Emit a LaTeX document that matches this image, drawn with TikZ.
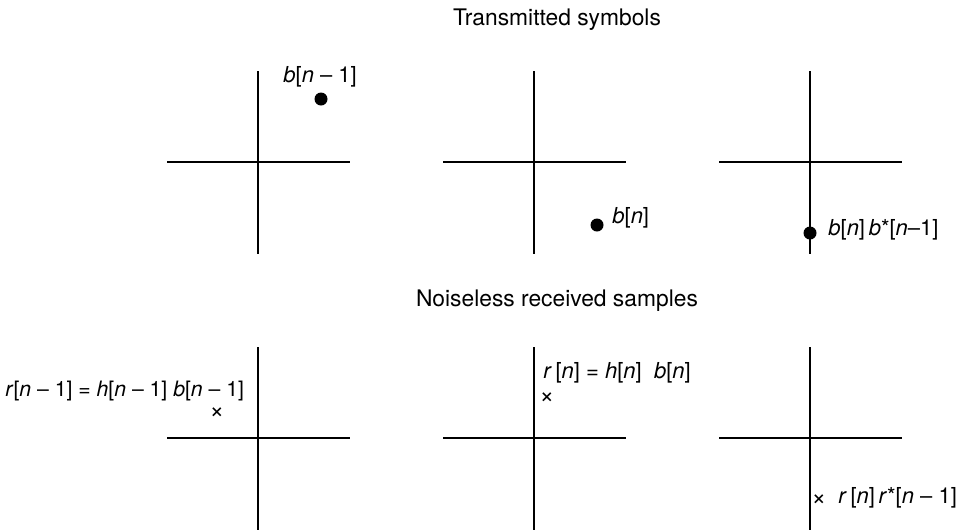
\documentclass[tikz,border=0pt]{standalone}
\usepackage{fontspec}
\setmainfont{TeX Gyre Heros}

\begin{document}
\begin{tikzpicture}[x = 0.5pt, y = -0.5pt]
    \useasboundingbox (0, 0) rectangle (959, 531);

    \tikzstyle{axis} = [line width = 0.75pt]
    \tikzstyle{symb} = [circle, fill = black, inner sep = 0pt, minimum size = 6.5pt]
    \tikzstyle{samp} = [inner sep = 0pt, font = \fontsize{12.5}{13}\selectfont]
    \tikzstyle{lbl} = [inner sep = 0pt, font = \fontsize{11}{12}\selectfont]
    \tikzstyle{ttl} = [inner sep = 0pt, font = \fontsize{11.4}{13}\selectfont]

    % axes of the six planes
    \foreach \cx/\cy/\nm in {258/162/ta, 534/162/tb, 810/162/tc,
                             258/438/ra, 534/438/rb, 810/438/rc} {
        \coordinate (\nm) at (\cx, \cy);
        \draw[axis] (\cx - 91, \cy) -- (\cx + 92, \cy);
        \draw[axis] (\cx, \cy - 91) -- (\cx, \cy + 92);
    }

    \node[ttl] (top) at (557, 20) {Transmitted symbols};
    \node[ttl] (bot) at (557, 301) {Noiseless received samples};

    % transmitted
    \node[symb] (b1) at (321, 99) {};
    \node[lbl, anchor = west] (b1l) at (283, 77) {\textit{b}[\textit{n} – 1]};

    \node[symb] (b0) at (597, 225) {};
    \node[lbl, anchor = west] (b0l) at (612, 218) {\textit{b}[\textit{n}]};

    \node[symb] (bb) at (810, 233) {};
    \node[lbl, anchor = west] (bbl) at (828, 230) {\textit{b}[\textit{n}]\,\textit{b}*[\textit{n}–1]};

    % received
    \node[samp] (r1) at (217, 413) {×};
    \node[lbl, anchor = west, font = \fontsize{10.6}{12}\selectfont] (r1l) at (5, 391)
        {\textit{r}[\textit{n} – 1] = \textit{h}[\textit{n} – 1]\ \textit{b}[\textit{n} – 1]};

    \node[samp] (r0) at (547, 398) {×};
    \node[lbl, anchor = west] (r0l) at (543, 373)
        {\textit{r}\,[\textit{n}] = \textit{h}[\textit{n}]\ \ \textit{b}[\textit{n}]};

    \node[samp] (rr) at (819, 500) {×};
    \node[lbl, anchor = west] (rrl) at (838, 498)
        {\textit{r}\,[\textit{n}]\,\textit{r}*[\textit{n} – 1]};
\end{tikzpicture}
\end{document}
